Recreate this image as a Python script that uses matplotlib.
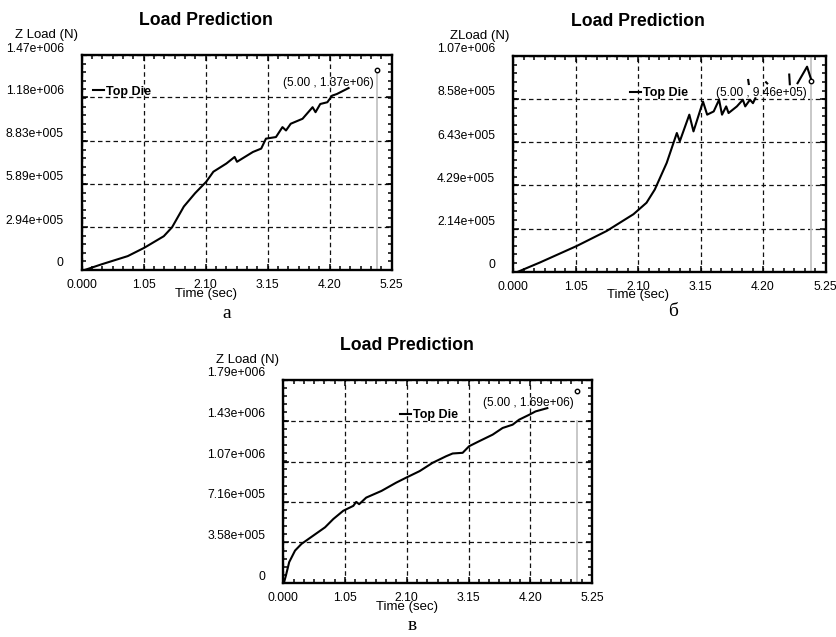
import matplotlib
matplotlib.use('Agg')
import matplotlib.pyplot as plt
import numpy as np
from matplotlib.ticker import MultipleLocator
from matplotlib.transforms import ScaledTranslation

plt.rcParams['font.family'] = ['Liberation Sans', 'DejaVu Sans']

nan = np.nan

# ---------------- data ----------------
title = 'Load Prediction'
xlabel = 'Time (sec)'
series_name = 'Top Die'
panel_letters = ['а', 'б', 'в']
ylabels = ['Z Load (N)', 'ZLoad (N)', 'Z Load (N)']

xticks = [0.0, 1.05, 2.10, 3.15, 4.20, 5.25]
xtick_labels = ['0.000', '1.05', '2.10', '3.15', '4.20', '5.25']

time_a = [0.05, 0.33, 0.78, 1.06, 1.39, 1.53, 1.73, 1.92, 2.11, 2.23, 2.45, 2.59, 2.63,
          2.90, 3.04, 3.12, 3.29, 3.40, 3.46, 3.54, 3.74, 3.91, 3.96, 4.04, 4.16, 4.24,
          4.32, 4.52]
load_a = [0, 3.8e4, 9.5e4, 1.52e5, 2.31e5, 2.92e5, 4.34e5, 5.25e5, 6.04e5, 6.72e5, 7.28e5,
          7.73e5, 7.40e5, 8.07e5, 8.30e5, 8.98e5, 9.09e5, 9.77e5, 9.54e5, 1.00e6, 1.034e6,
          1.113e6, 1.079e6, 1.135e6, 1.147e6, 1.192e6, 1.203e6, 1.244e6]

time_b = [0.08, 0.45, 1.07, 1.57, 2.02, 2.24, 2.38, 2.58, 2.75, 2.80, 2.96, 3.03, 3.19,
          3.26, 3.37, 3.46, 3.51, 3.58, 3.62, 3.76, 3.86, 3.90, 3.98, 4.03, 4.07,
          nan, 3.95, 3.96, nan, 4.25, 4.27, nan, 4.64, 4.65, nan, 4.78, 4.94, 5.02]
load_b = [0, 4.6e4, 1.28e5, 2.02e5, 2.85e5, 3.42e5, 4.08e5, 5.40e5, 6.88e5, 6.47e5, 7.79e5,
          6.96e5, 8.44e5, 7.79e5, 7.95e5, 8.53e5, 7.79e5, 8.20e5, 7.87e5, 8.20e5, 8.53e5,
          8.20e5, 8.53e5, 8.36e5, 8.60e5,
          nan, 9.51e5, 9.31e5, nan, 9.40e5, 9.34e5, nan, 9.78e5, 9.30e5, nan,
          9.35e5, 1.017e6, 9.43e5]

time_c = [0.01, 0.045, 0.10, 0.20, 0.31, 0.51, 0.71, 0.85, 1.02, 1.19, 1.24, 1.29, 1.41,
          1.67, 1.92, 2.09, 2.32, 2.54, 2.77, 2.88, 3.05, 3.16, 3.33, 3.56, 3.73, 3.90,
          4.01, 4.18, 4.29, 4.49]
load_c = [0, 6.7e4, 1.84e5, 2.86e5, 3.45e5, 4.18e5, 4.91e5, 5.64e5, 6.37e5, 6.80e5, 7.15e5,
          6.95e5, 7.53e5, 8.12e5, 8.85e5, 9.29e5, 9.87e5, 1.06e6, 1.118e6, 1.142e6,
          1.148e6, 1.206e6, 1.25e6, 1.308e6, 1.367e6, 1.396e6, 1.44e6, 1.483e6, 1.513e6,
          1.542e6]

yticks_a = [0, 2.94e5, 5.89e5, 8.83e5, 1.18e6, 1.47e6]
ytick_labels_a = ['0', '2.94e+005', '5.89e+005', '8.83e+005', '1.18e+006', '1.47e+006']
yticks_b = [0, 2.14e5, 4.29e5, 6.43e5, 8.58e5, 1.07e6]
ytick_labels_b = ['0', '2.14e+005', '4.29e+005', '6.43e+005', '8.58e+005', '1.07e+006']
yticks_c = [0, 3.58e5, 7.16e5, 1.07e6, 1.43e6, 1.79e6]
ytick_labels_c = ['0', '3.58e+005', '7.16e+005', '1.07e+006', '1.43e+006', '1.79e+006']

cursor_time = 5.00
cursor_values = [1.37e6, 9.46e5, 1.69e6]

# ---------------- layout ----------------
W, H, DPI = 837, 637, 100
fig = plt.figure(figsize=(W / DPI, H / DPI), dpi=DPI, facecolor='white')


def px_rect(left, top, right, bottom):
    return [left / W, 1 - bottom / H, (right - left) / W, (bottom - top) / H]


panels = [
    dict(rect=px_rect(81.7, 55, 391.7, 270), t=time_a, v=load_a, yt=yticks_a,
         ytl=ytick_labels_a, cur=cursor_values[0], ylab=ylabels[0],
         leg=(0.037, 0.83), ann=(0.943, 0.868), cur_top=0.93,
         letter=(227, 314)),
    dict(rect=px_rect(513.3, 56, 825.5, 271.7), t=time_b, v=load_b, yt=yticks_b,
         ytl=ytick_labels_b, cur=cursor_values[1], ylab=ylabels[1],
         leg=(0.374, 0.827), ann=(0.94, 0.827), cur_top=1.0,
         letter=(673, 312)),
    dict(rect=px_rect(283.3, 380, 592, 583), t=time_c, v=load_c, yt=yticks_c,
         ytl=ytick_labels_c, cur=cursor_values[2], ylab=ylabels[2],
         leg=(0.378, 0.828), ann=(0.942, 0.885), cur_top=0.8,
         letter=(412, 626)),
]

for i, p in enumerate(panels):
    ax = fig.add_axes(p['rect'])
    ax.set_facecolor('white')
    ax.axvline(cursor_time, ymin=0, ymax=p['cur_top'], color='#c4c4c4', lw=1.3, zorder=1)
    ax.plot(p['t'], p['v'], color='black', lw=1.5, label=series_name, zorder=3)
    ax.plot([cursor_time], [p['cur']], marker='o', ms=3.2, mfc='white', mec='black',
            mew=1.0, zorder=4)

    ax.set_xlim(xticks[0], xticks[-1])
    ax.set_ylim(p['yt'][0], p['yt'][-1])
    ax.set_xticks(xticks)
    ax.set_xticklabels(xtick_labels)
    ax.set_yticks(p['yt'])
    ax.set_yticklabels(p['ytl'])
    ax.xaxis.set_minor_locator(MultipleLocator((xticks[1] - xticks[0]) / 6))
    ax.yaxis.set_minor_locator(MultipleLocator((p['yt'][1] - p['yt'][0]) / 5))

    ax.tick_params(which='both', direction='in', top=True, right=True, width=1.1,
                   color='black')
    ax.tick_params(which='major', length=4.0)
    ax.tick_params(which='minor', length=2.8)
    ax.tick_params(axis='y', which='major', pad=13, labelsize=8.7)
    ax.tick_params(axis='x', which='major', pad=6.5, labelsize=8.7)
    for tick in ax.yaxis.get_major_ticks():
        tick.label1.set_transform(tick.label1.get_transform() +
                                  ScaledTranslation(0, 8 / DPI, fig.dpi_scale_trans))

    ax.grid(True, which='major', color='#111111', linestyle=(0, (3.6, 2.6)), linewidth=0.9)
    ax.set_axisbelow(True)
    for s in ax.spines.values():
        s.set_linewidth(1.7)

    ax.legend(loc='center left', bbox_to_anchor=p['leg'], frameon=False,
              handlelength=0.9, handletextpad=0.15, borderpad=0, borderaxespad=0,
              prop={'weight': 'bold', 'size': 9})

    ax.text(p['ann'][0], p['ann'][1],
            f"({cursor_time:.2f} , {p['cur']:.2e})", transform=ax.transAxes,
            ha='right', va='center', fontsize=8.6)

    ax.annotate(title, xy=(0.4, 1), xycoords='axes fraction', xytext=(0, 25),
                textcoords='offset points', ha='center', va='center', fontsize=12.7,
                fontweight='bold')
    ax.annotate(p['ylab'], xy=(0, 1), xycoords='axes fraction', xytext=(-3, 14.5),
                textcoords='offset points', ha='right', va='center', fontsize=9.5)
    ax.annotate(xlabel, xy=(0.4, 0), xycoords='axes fraction', xytext=(0, -17),
                textcoords='offset points', ha='center', va='center', fontsize=9.5)

    fig.text(p['letter'][0] / W, 1 - p['letter'][1] / H, panel_letters[i],
             fontsize=14, family=['Liberation Serif', 'DejaVu Serif'],
             ha='center', va='center')

fig.savefig('out.png', dpi=DPI, facecolor='white')
